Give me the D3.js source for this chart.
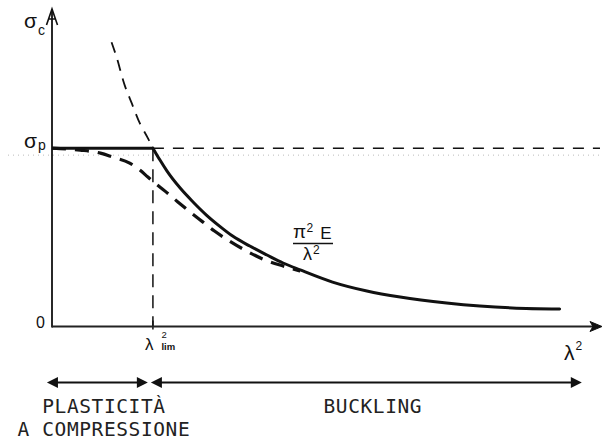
<!DOCTYPE html>
<html>
<head>
<meta charset="utf-8">
<script src="https://cdn.jsdelivr.net/npm/d3@7"></script>
<style>
  html, body { margin: 0; padding: 0; background: #fff; }
  svg { display: block; }
</style>
</head>
<body>
<script>
// Critical stress vs. slenderness squared, normalised so that sigma_p = 1 and lambda^2_lim = 1.

// Euler hyperbola (solid), from lambda^2_lim onwards
const eulerLambdaSq = [1.00, 1.07, 1.14, 1.27, 1.40, 1.53, 1.66, 1.79, 1.96, 2.13, 2.29, 2.46, 2.78, 3.12, 3.45, 3.91, 4.24, 4.56, 5.03];
const eulerSigma    = [1.000, 0.933, 0.871, 0.776, 0.697, 0.625, 0.563, 0.507, 0.451, 0.401, 0.356, 0.317, 0.249, 0.199, 0.165, 0.132, 0.115, 0.104, 0.098];

// Euler hyperbola continued above sigma_p (dashed)
const eulerExtLambdaSq = [0.59, 0.64, 0.72, 0.79, 0.87, 0.95, 1.00];
const eulerExtSigma    = [1.594, 1.510, 1.353, 1.252, 1.140, 1.056, 1.00];

// Inelastic buckling curve (dashed)
const inelasticLambdaSq = [0, 0.28, 0.48, 0.60, 0.77, 0.87, 0.95, 1.02, 1.12, 1.25, 1.37, 1.49, 1.61, 1.76, 1.91, 2.09, 2.29, 2.46];
const inelasticSigma    = [1.000, 0.989, 0.972, 0.950, 0.916, 0.877, 0.838, 0.804, 0.759, 0.697, 0.641, 0.588, 0.535, 0.479, 0.429, 0.378, 0.339, 0.311];

// Plastic plateau and its dashed continuation
const sigmaP = 1;
const lambdaSqLim = 1;
const plateauEnd = 5.43;

// Axis extents
const xMax = 5.45;
const yMax = 1.78;

// Regions under the axis
const regionNames = [["PLASTICITÀ", "A COMPRESSIONE"], ["BUCKLING"]];
const regionFrom = [-0.05, 0.98];
const regionTo   = [0.95, 5.25];

const W = 606, H = 441;
const svg = d3.select("body").append("svg").attr("width", W).attr("height", H);
svg.append("rect").attr("width", W).attr("height", H).attr("fill", "#fff");

const x = d3.scaleLinear().domain([0, xMax]).range([52, 602]);
const y = d3.scaleLinear().domain([0, yMax]).range([326.5, 9]);

const ink = "#111";
const sans = "'Liberation Sans', Arial, sans-serif";

const line = d3.line().x(d => x(d[0])).y(d => y(d[1])).curve(d3.curveMonotoneX);
const lineY = d3.line().x(d => x(d[0])).y(d => y(d[1])).curve(d3.curveCatmullRom);

// faint dotted trace along sigma_p
svg.append("line")
  .attr("x1", 8).attr("x2", 600)
  .attr("y1", y(sigmaP) + 7).attr("y2", y(sigmaP) + 7)
  .attr("stroke", "#bbb").attr("stroke-width", 1).attr("stroke-dasharray", "1,4");

// dashed continuation of sigma_p
svg.append("line")
  .attr("x1", x(lambdaSqLim)).attr("x2", x(plateauEnd))
  .attr("y1", y(sigmaP)).attr("y2", y(sigmaP))
  .attr("stroke", ink).attr("stroke-width", 1.5).attr("stroke-dasharray", "11,9");

// dashed vertical at lambda^2_lim
svg.append("line")
  .attr("x1", x(lambdaSqLim)).attr("x2", x(lambdaSqLim))
  .attr("y1", y(sigmaP)).attr("y2", y(0))
  .attr("stroke", ink).attr("stroke-width", 1.5).attr("stroke-dasharray", "13,8");
svg.append("line")
  .attr("x1", x(lambdaSqLim)).attr("x2", x(lambdaSqLim))
  .attr("y1", y(0) - 6).attr("y2", y(0) + 3)
  .attr("stroke", ink).attr("stroke-width", 1.5);

// Euler continuation above sigma_p
svg.append("path")
  .attr("d", lineY(eulerExtLambdaSq.map((v, i) => [v, eulerExtSigma[i]])))
  .attr("fill", "none").attr("stroke", ink).attr("stroke-width", 1.8)
  .attr("stroke-dasharray", "11,8");

// inelastic curve
svg.append("path")
  .attr("d", line(inelasticLambdaSq.map((v, i) => [v, inelasticSigma[i]])))
  .attr("fill", "none").attr("stroke", ink).attr("stroke-width", 3.2)
  .attr("stroke-dasharray", "14,9");

// plateau
svg.append("line")
  .attr("x1", x(0)).attr("x2", x(lambdaSqLim))
  .attr("y1", y(sigmaP)).attr("y2", y(sigmaP))
  .attr("stroke", ink).attr("stroke-width", 3);

// Euler hyperbola
svg.append("path")
  .attr("d", line(eulerLambdaSq.map((v, i) => [v, eulerSigma[i]])))
  .attr("fill", "none").attr("stroke", ink).attr("stroke-width", 3)
  .attr("stroke-linecap", "round");

// axes
svg.append("line")
  .attr("x1", x(0)).attr("x2", x(0)).attr("y1", y(0) + 1).attr("y2", y(yMax))
  .attr("stroke", ink).attr("stroke-width", 1.8);
svg.append("line")
  .attr("x1", x(0)).attr("x2", x(xMax) - 4).attr("y1", y(0)).attr("y2", y(0))
  .attr("stroke", "#222").attr("stroke-width", 1.8);

// y arrowhead
const yTip = [x(0), y(yMax)];
svg.append("path")
  .attr("d", `M${yTip[0] - 5.5},${yTip[1] + 16} L${yTip[0]},${yTip[1]} L${yTip[0] + 5.5},${yTip[1] + 16} M${yTip[0] - 3.2},${yTip[1] + 10} L${yTip[0] + 3.2},${yTip[1] + 10}`)
  .attr("fill", "none").attr("stroke", ink).attr("stroke-width", 1.6);

// x arrowhead
const xTip = [x(xMax), y(0)];
svg.append("path")
  .attr("d", `M${xTip[0]},${xTip[1]} L${xTip[0] - 12},${xTip[1] - 5} L${xTip[0] - 9},${xTip[1]} L${xTip[0] - 12},${xTip[1] + 5} Z`)
  .attr("fill", ink).attr("stroke", ink).attr("stroke-width", 1);

// y labels
function sub(g, px, py, main, subTxt, mainSize, subSize, dx, dy) {
  const t = g.append("text").attr("x", px).attr("y", py)
    .attr("font-family", sans).attr("fill", ink).attr("font-size", mainSize);
  t.append("tspan").text(main);
  t.append("tspan").attr("dx", dx).attr("dy", dy).attr("font-size", subSize).text(subTxt);
  return t;
}
sub(svg, 24, 28, "σ", "c", 21, 14, 1, 7);
sub(svg, 24, y(sigmaP), "σ", "p", 21, 14, 1, 2);
svg.append("text").attr("x", 45).attr("y", y(0) + 1.5)
  .attr("text-anchor", "end").attr("font-family", sans).attr("font-size", 16).attr("fill", ink)
  .text("0");

// x labels: lambda^2_lim with stacked superscript and subscript
const limLabel = svg.append("text").attr("x", x(lambdaSqLim) - 8).attr("y", 350)
  .attr("font-family", sans).attr("font-size", 17).attr("fill", ink);
limLabel.append("tspan").text("λ");
limLabel.append("tspan").attr("dx", 8).attr("dy", -12.5).attr("font-size", 9.5).text("2");
limLabel.append("tspan").attr("dx", -5.3).attr("dy", 12).attr("font-size", 9.5)
  .attr("font-weight", "bold").text("lim");

const endLabel = svg.append("text").attr("x", 564).attr("y", 360)
  .attr("font-family", sans).attr("font-size", 21).attr("fill", ink);
endLabel.append("tspan").text("λ");
endLabel.append("tspan").attr("dx", 1).attr("dy", -10).attr("font-size", 12).text("2");

// Euler formula
const fx = 293;
const num = svg.append("text").attr("x", fx).attr("y", 238)
  .attr("font-family", sans).attr("font-size", 19).attr("fill", ink);
num.append("tspan").text("π");
num.append("tspan").attr("dx", 0.5).attr("dy", -6).attr("font-size", 12).text("2");
num.append("tspan").attr("dx", 7).attr("dy", 7).attr("font-size", 17).text("E");
svg.append("line").attr("x1", fx).attr("x2", fx + 40).attr("y1", 243.5).attr("y2", 243.5)
  .attr("stroke", ink).attr("stroke-width", 1.6);
const den = svg.append("text").attr("x", fx + 10).attr("y", 260)
  .attr("font-family", sans).attr("font-size", 18).attr("fill", ink);
den.append("tspan").text("λ");
den.append("tspan").attr("dx", 1).attr("dy", -6).attr("font-size", 12).text("2");

// regions
const arrowY = 382.5;
regionNames.forEach((names, i) => {
  const a = x(regionFrom[i]), b = x(regionTo[i]);
  svg.append("line").attr("x1", a + 6).attr("x2", b - 6).attr("y1", arrowY).attr("y2", arrowY)
    .attr("stroke", ink).attr("stroke-width", 2);
  svg.append("path")
    .attr("d", `M${a},${arrowY} L${a + 11},${arrowY - 5.5} L${a + 11},${arrowY + 5.5} Z M${b},${arrowY} L${b - 11},${arrowY - 5.5} L${b - 11},${arrowY + 5.5} Z`)
    .attr("fill", ink);
  const cx = (a + b) / 2 + 6.5;
  const t = svg.append("text")
    .attr("x", cx).attr("y", 413)
    .attr("text-anchor", "middle")
    .attr("font-family", "'DejaVu Sans Mono', monospace").attr("font-size", 19.5)
    .attr("letter-spacing", 0.6)
    .attr("fill", "#222");
  names.forEach((n, j) => {
    t.append("tspan").attr("x", cx).attr("dy", j === 0 ? 0 : 23).text(n);
  });
});
</script>
</body>
</html>
